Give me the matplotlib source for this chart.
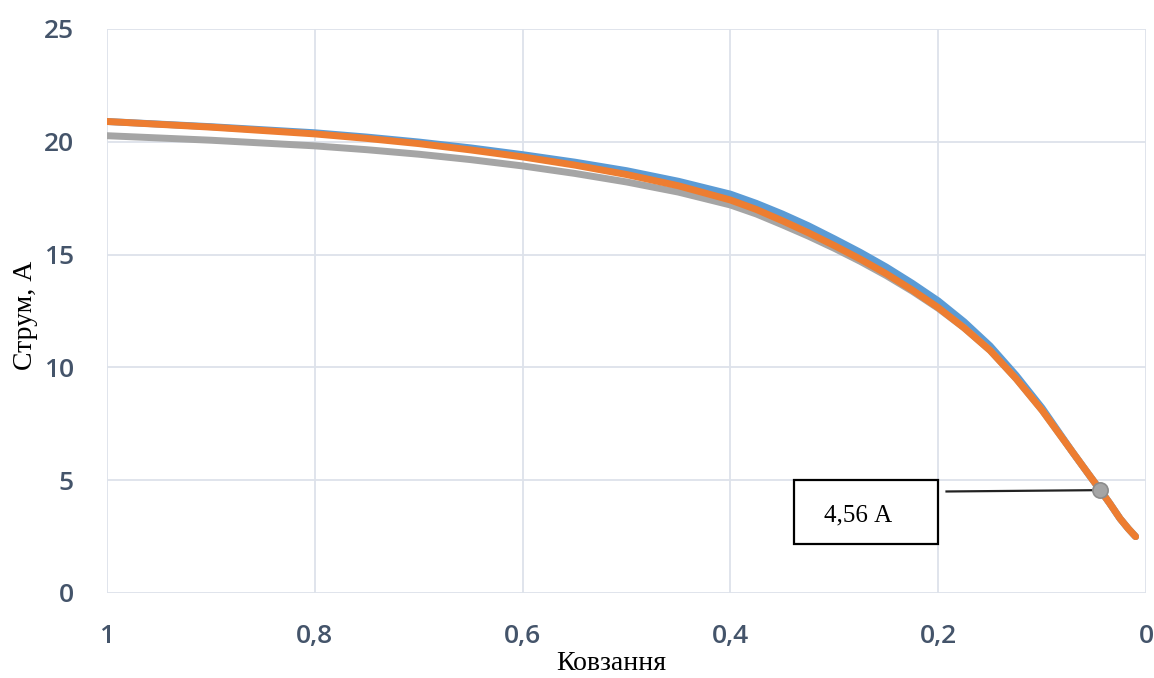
import matplotlib.pyplot as plt
from matplotlib.patches import Rectangle

# ковзання та струм для трьох розрахунків
s = [1.0, 0.9, 0.8, 0.75, 0.7, 0.65, 0.6, 0.55, 0.5, 0.45, 0.4, 0.375, 0.35, 0.325, 0.3, 0.275, 0.25,
     0.225, 0.2, 0.175, 0.15, 0.125, 0.1, 0.085, 0.07, 0.055, 0.044, 0.035, 0.025, 0.017, 0.01]
i_blue = [20.9, 20.67, 20.4, 20.21, 19.99, 19.73, 19.43, 19.1, 18.72, 18.25, 17.68, 17.27, 16.8, 16.28,
          15.7, 15.1, 14.45, 13.73, 12.95, 12.02, 10.95, 9.65, 8.2, 7.2, 6.2, 5.25, 4.56, 3.98, 3.3,
          2.85, 2.5]
i_gray = [20.27, 20.07, 19.82, 19.65, 19.45, 19.21, 18.93, 18.6, 18.22, 17.77, 17.2, 16.8, 16.32, 15.82,
          15.28, 14.7, 14.07, 13.38, 12.62, 11.75, 10.75, 9.5, 8.1, 7.15, 6.2, 5.25, 4.56, 3.98, 3.3,
          2.85, 2.5]
i_orange = [20.9, 20.65, 20.35, 20.15, 19.92, 19.64, 19.33, 18.97, 18.55, 18.05, 17.42, 17.0, 16.5, 15.97,
            15.4, 14.8, 14.15, 13.43, 12.65, 11.75, 10.75, 9.5, 8.1, 7.15, 6.2, 5.25, 4.56, 3.98, 3.3,
            2.85, 2.5]

s_mark = 0.044
i_mark = 4.56
mark_text = "4,56 А"

xticks = [1, 0.8, 0.6, 0.4, 0.2, 0]
xlabels = ["1", "0,8", "0,6", "0,4", "0,2", "0"]
yticks = [0, 5, 10, 15, 20, 25]

fig = plt.figure(figsize=(11.54, 6.78), dpi=100)
ax = fig.add_axes([107 / 1154, 1 - 593 / 678, 1039 / 1154, 564 / 678])

ax.plot(s, i_blue, color="#5B9BD5", lw=5, solid_capstyle="round", solid_joinstyle="round", zorder=3)
ax.plot(s, i_gray, color="#A5A5A5", lw=5, solid_capstyle="round", solid_joinstyle="round", zorder=4)
ax.plot(s, i_orange, color="#ED7D31", lw=5, solid_capstyle="round", solid_joinstyle="round", zorder=5)

# підпис робочої точки
ax.plot([0.192, s_mark], [4.5, i_mark], color="#222222", lw=1.6, zorder=6)
ax.plot([s_mark], [i_mark], "o", ms=11, mfc="#A5A5A5", mec="#8C8C8C", mew=1.2, zorder=7)
ax.add_patch(Rectangle((0.2, 2.17), 0.1385, 2.83, fill=False, ec="black", lw=1.6, zorder=6,
                       clip_on=False))
ax.text(0.277, 3.45, mark_text, ha="center", va="center", fontsize=18,
        family="Liberation Serif", zorder=7)

ax.set_xlim(1, 0)
ax.set_ylim(0, 25)
ax.set_xticks(xticks)
ax.set_xticklabels(xlabels)
ax.set_yticks(yticks)
ax.grid(True, color="#DDE2EA", lw=1.3)
ax.set_axisbelow(True)
for sp in ax.spines.values():
    sp.set_visible(False)
ax.tick_params(length=0, labelsize=19, labelcolor="#44546A")
ax.tick_params(axis="x", pad=22)
ax.tick_params(axis="y", pad=24)
for lab in ax.get_xticklabels() + ax.get_yticklabels():
    lab.set_family("Open Sans")
    lab.set_weight("semibold")

fig.text(611 / 1154, 1 - 663 / 678, "Ковзання", ha="center", va="center", fontsize=20,
         family="Liberation Serif")
fig.text(25 / 1154, 1 - 315 / 678, "Струм, А", ha="center", va="center", rotation=90,
         fontsize=20, family="Liberation Serif")

fig.savefig("out.png", dpi=100, facecolor="white")
